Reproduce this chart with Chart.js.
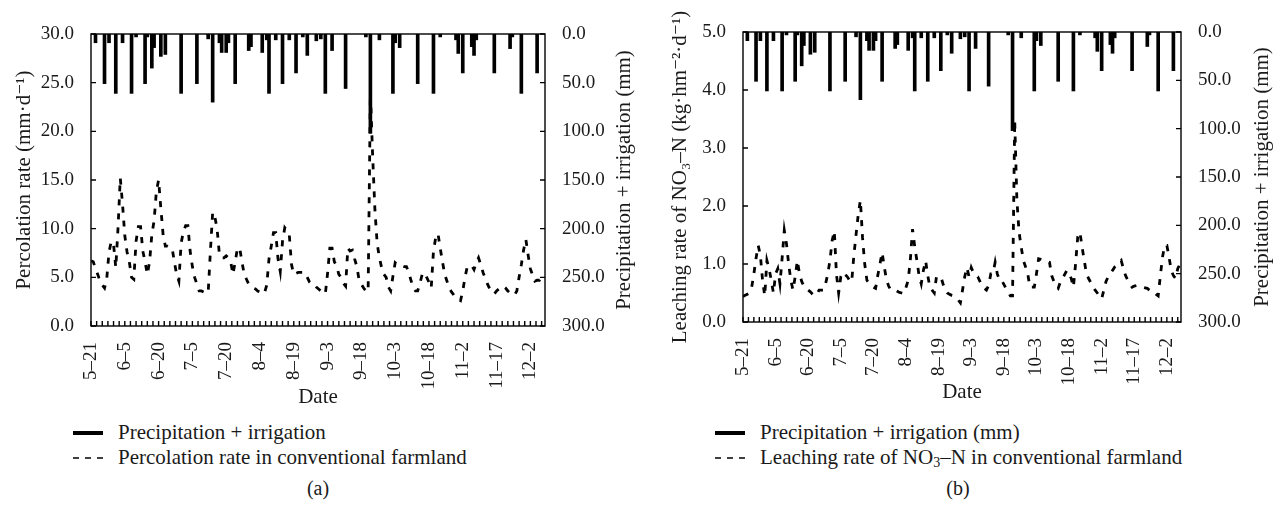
<!DOCTYPE html>
<html>
<head>
<meta charset="utf-8">
<script src="https://cdn.jsdelivr.net/npm/chart.js@4.4.1/dist/chart.umd.min.js"></script>
<style>
  body { margin: 0; background: #fff; width: 1276px; height: 513px; position: relative; overflow: hidden;
         font-family: "Liberation Serif", "DejaVu Serif", serif; color: #1a1a1a; }
  .panel { position: absolute; top: 0; width: 638px; height: 410px; }
  .legend { position: absolute; font-size: 21px; line-height: 25px; }
  .legend .row { display: flex; align-items: center; white-space: nowrap; }
  .legend svg { margin-right: 15px; }
  .legend .sub { font-size: 14px; position: relative; top: 5px; }
  .cap { position: absolute; top: 477px; font-size: 20px; transform: translateX(-50%); }
</style>
</head>
<body>
<div class="panel" style="left:0"><canvas id="chartA" width="638" height="410"></canvas></div>
<div class="panel" style="left:638px"><canvas id="chartB" width="638" height="410"></canvas></div>

<div class="legend" style="left:73px; top:420px">
  <div class="row"><svg width="30" height="8"><line x1="0" y1="4" x2="30" y2="4" stroke="#000" stroke-width="4"/></svg>Precipitation + irrigation</div>
  <div class="row"><svg width="30" height="8"><line x1="0" y1="4" x2="30" y2="4" stroke="#000" stroke-width="1.5" stroke-dasharray="6 6"/></svg>Percolation rate in conventional farmland</div>
</div>
<div class="cap" style="left:318px">(a)</div>

<div class="legend" style="left:715px; top:420px">
  <div class="row"><svg width="30" height="8"><line x1="0" y1="4" x2="30" y2="4" stroke="#000" stroke-width="4"/></svg>Precipitation + irrigation (mm)</div>
  <div class="row"><svg width="30" height="8"><line x1="0" y1="4" x2="30" y2="4" stroke="#000" stroke-width="1.5" stroke-dasharray="6 6"/></svg>Leaching rate of NO<span class="sub">3</span>–N in conventional farmland</div>
</div>
<div class="cap" style="left:958px">(b)</div>

<script>
// tick labels every 15 days starting 5-21
const dateLabels = ["5–21", "6–5", "6–20", "7–5", "7–20", "8–4", "8–19", "9–3", "9–18", "10–3", "10–18", "11–2", "11–17", "12–2"];
const xMax = 201.5;
const minorStep = 2.5;

// precipitation + irrigation events (day index from 5-21, mm)
const rainDays = [2, 6, 8, 11, 14, 18, 20, 24, 25, 27, 28, 31, 33, 40, 47, 52, 54, 57, 58, 60,
  61, 64, 70, 71, 76, 78, 79, 82, 85, 88, 91, 94, 96, 100, 102, 104, 107, 113, 122, 124,
  128, 134, 135, 137, 145, 152, 155, 162, 163, 165, 169, 170, 171, 179, 186, 187, 191, 198];
const rainMm = [9, 51, 9, 61, 9, 61, 3, 51, 3, 35, 14, 23, 21, 61, 51, 5, 70, 9, 19, 19,
  9, 51, 17, 13, 19, 6, 61, 6, 51, 6, 40, 3, 22, 7, 5, 61, 17, 56, 3, 102,
  6, 61, 9, 14, 51, 61, 3, 6, 20, 40, 13, 22, 6, 40, 15, 3, 61, 40];

// daily percolation rate (mm/d), panel a
const percolation = [
  6.7, 6.6, 5.9, 5.3, 4.6, 4.2, 3.9, 4.9, 7.6, 8.7,
  8.4, 6.0, 10.1, 15.2, 12.5, 9.3, 7.6, 6.6, 5.0, 4.8,
  8.7, 10.2, 10.2, 7.7, 6.6, 5.3, 6.6, 9.4, 10.8, 13.8,
  15.0, 12.1, 9.4, 8.2, 8.2, 8.1, 8.0, 6.6, 5.3, 4.6,
  8.5, 9.7, 10.3, 10.3, 7.7, 6.1, 5.0, 4.3, 3.6, 3.6,
  3.5, 3.5, 3.4, 7.7, 11.7, 11.2, 9.9, 7.3, 7.0, 7.0,
  7.2, 7.0, 6.6, 5.3, 6.6, 8.0, 8.0, 6.6, 5.3, 4.8,
  4.3, 4.1, 3.9, 3.8, 3.6, 3.5, 3.3, 3.4, 4.2, 6.9,
  8.2, 9.6, 9.6, 6.9, 5.6, 8.7, 10.1, 9.8, 9.4, 6.3,
  5.3, 5.4, 5.5, 5.5, 5.5, 5.5, 5.0, 4.5, 4.3, 4.3,
  4.0, 3.8, 3.6, 3.4, 3.3, 5.4, 8.0, 8.0, 6.6, 6.2,
  5.3, 5.0, 4.4, 4.1, 8.0, 7.7, 7.8, 6.9, 6.1, 4.7,
  4.3, 3.9, 3.6, 3.5, 24.0, 17.5, 12.0, 8.5, 7.0, 6.0,
  5.3, 5.0, 4.0, 3.6, 5.1, 6.5, 6.3, 6.2, 6.2, 6.1,
  6.1, 5.5, 4.7, 4.0, 3.6, 3.6, 4.4, 5.3, 5.5, 5.0,
  4.5, 3.9, 7.7, 9.1, 9.5, 8.0, 6.6, 5.3, 4.6, 3.9,
  3.5, 3.2, 2.9, 2.7, 2.6, 3.6, 5.0, 6.1, 6.1, 6.2,
  5.8, 6.5, 7.0, 6.3, 5.5, 4.9, 4.3, 3.8, 3.4, 3.3,
  3.6, 3.8, 4.0, 4.1, 3.9, 3.6, 3.4, 3.2, 3.2, 3.6,
  5.0, 6.3, 7.8, 8.9, 7.3, 5.9, 5.2, 4.6, 4.7, 4.7,
  5.0, 5.0
];

// daily NO3-N leaching rate (kg/hm2/d), panel b
const leaching = [
  0.44, 0.46, 0.48, 0.50, 0.60, 0.83, 1.10, 1.32, 1.15, 0.72,
  0.45, 1.06, 0.92, 0.72, 0.50, 0.83, 0.92, 0.66, 1.10, 1.58,
  1.35, 1.00, 0.72, 0.55, 0.78, 1.06, 0.83, 0.70, 0.62, 0.60,
  0.55, 0.52, 0.48, 0.45, 0.48, 0.55, 0.55, 0.55, 0.66, 0.83,
  1.06, 1.40, 1.57, 0.82, 0.50, 0.78, 0.86, 0.82, 0.78, 0.72,
  0.69, 1.15, 1.50, 1.85, 2.10, 1.45, 1.00, 0.72, 0.67, 0.64,
  0.60, 0.58, 0.80, 1.00, 1.20, 0.95, 0.73, 0.62, 0.55, 0.55,
  0.55, 0.53, 0.51, 0.50, 0.49, 0.60, 0.72, 1.08, 1.60, 1.30,
  1.06, 0.80, 0.66, 0.89, 1.06, 0.80, 0.60, 0.55, 0.50, 0.78,
  0.78, 0.78, 0.66, 0.55, 0.50, 0.48, 0.46, 0.45, 0.42, 0.38,
  0.33, 0.55, 0.78, 0.94, 0.78, 0.94, 0.85, 0.80, 0.78, 0.70,
  0.62, 0.58, 0.55, 0.63, 0.83, 0.83, 1.03, 0.83, 0.72, 0.72,
  0.65, 0.58, 0.52, 0.45, 0.45, 3.48, 2.10, 1.55, 1.29, 1.06,
  0.95, 0.83, 0.60, 0.60, 0.60, 0.83, 1.09, 1.08, 1.07, 1.05,
  1.04, 1.03, 0.80, 0.70, 0.62, 0.58, 0.69, 0.75, 0.82, 0.89,
  0.83, 0.75, 0.60, 1.00, 1.47, 1.55, 1.29, 1.06, 0.83, 0.75,
  0.68, 0.60, 0.55, 0.50, 0.45, 0.40, 0.55, 0.70, 0.78, 0.84,
  0.89, 0.95, 0.98, 1.02, 1.06, 0.92, 0.80, 0.72, 0.65, 0.60,
  0.62, 0.63, 0.62, 0.61, 0.60, 0.59, 0.58, 0.55, 0.55, 0.52,
  0.48, 0.45, 0.80, 1.12, 1.32, 1.32, 1.12, 0.89, 0.80, 0.75,
  0.92, 1.00
];

const FONT = "'Liberation Serif', 'DejaVu Serif', serif";
const INK = "#1a1a1a";
const rightTitle = "Precipitation + irrigation (mm)";

// box around the plot, inward tick marks, right title reading upward
const frameTicks = {
  id: "frameTicks",
  afterDatasetsDraw(chart) {
    const { ctx, chartArea: a, scales } = chart;
    ctx.save();
    ctx.strokeStyle = "#000";
    ctx.lineWidth = 1.4;
    ctx.strokeRect(a.left, a.top, a.right - a.left, a.bottom - a.top);
    ctx.beginPath();
    scales.y.ticks.forEach((t) => {
      const y = scales.y.getPixelForValue(t.value);
      ctx.moveTo(a.left, y);
      ctx.lineTo(a.left + 5, y);
    });
    scales.y1.ticks.forEach((t) => {
      const y = scales.y1.getPixelForValue(t.value);
      ctx.moveTo(a.right, y);
      ctx.lineTo(a.right - 5, y);
    });
    for (let d = 0; d <= xMax; d += minorStep) {
      const x = scales.x.getPixelForValue(d);
      ctx.moveTo(x, a.bottom);
      ctx.lineTo(x, a.bottom - 5);
    }
    ctx.stroke();

    ctx.translate(chart.width - 14, (a.top + a.bottom) / 2);
    ctx.rotate(-Math.PI / 2);
    ctx.fillStyle = INK;
    ctx.font = "21px " + FONT;
    ctx.textAlign = "center";
    ctx.textBaseline = "middle";
    ctx.fillText(rightTitle, 0, 0);
    ctx.restore();
  },
};

function makeChart(id, cfg) {
  const font = { family: FONT, size: 19 };
  const titleFont = { family: FONT, size: 21 };
  return new Chart(document.getElementById(id), {
    type: "bar",
    data: {
      datasets: [
        {
          type: "line",
          label: cfg.lineLabel,
          data: cfg.series.map((v, i) => ({ x: i, y: v })),
          yAxisID: "y",
          borderColor: "#000",
          borderWidth: 2.8,
          borderDash: [6, 8],
          pointRadius: 0,
          tension: 0,
          fill: false,
          order: 1,
        },
        {
          type: "bar",
          label: cfg.barLabel,
          data: rainDays.map((d, i) => ({ x: d, y: rainMm[i] })),
          yAxisID: "y1",
          backgroundColor: "#000",
          barThickness: 3,
          order: 2,
        },
      ],
    },
    options: {
      responsive: false,
      animation: false,
      layout: { padding: { left: cfg.padLeft, right: 0, top: cfg.top, bottom: 0 } },
      plugins: { legend: { display: false }, tooltip: { enabled: false } },
      scales: {
        x: {
          type: "linear",
          min: 0,
          max: xMax,
          offset: false,
          grid: { display: false, offset: false },
          border: { display: false },
          ticks: {
            stepSize: 15,
            autoSkip: false,
            includeBounds: false,
            minRotation: 90,
            maxRotation: 90,
            padding: 8,
            color: INK,
            font,
            callback: (v) => (v % 15 === 0 ? dateLabels[v / 15] || "" : ""),
          },
          title: { display: true, text: "Date", color: INK, font: titleFont, padding: { top: 0, bottom: cfg.datePad } },
          afterFit: (s) => { s.height = 410 - cfg.bottom; },
        },
        y: {
          position: "left",
          min: 0,
          max: cfg.leftMax,
          grid: { display: false },
          border: { display: false },
          ticks: { stepSize: cfg.leftStep, padding: 9, color: INK, font, callback: (v) => v.toFixed(1) },
          title: { display: true, text: cfg.leftTitle, color: INK, font: titleFont, padding: { top: 4, bottom: 0 } },
          afterFit: (s) => { s.width = cfg.left - cfg.padLeft; },
        },
        y1: {
          position: "right",
          min: 0,
          max: 300,
          reverse: true,
          grid: { display: false },
          border: { display: false },
          ticks: { stepSize: 50, padding: 9, color: INK, font, callback: (v) => v.toFixed(1) },
          afterFit: (s) => { s.width = 638 - cfg.right; },
        },
      },
    },
    plugins: [frameTicks],
  });
}

document.addEventListener("DOMContentLoaded", function () {
  makeChart("chartA", {
    series: percolation,
    lineLabel: "Percolation rate in conventional farmland",
    barLabel: "Precipitation + irrigation",
    leftMax: 30,
    leftStep: 5,
    leftTitle: "Percolation rate (mm·d⁻¹)",
    padLeft: 8,
    left: 91,
    right: 545,
    top: 34,
    bottom: 326,
    datePad: 0,
  });

  makeChart("chartB", {
    series: leaching,
    lineLabel: "Leaching rate of NO₃–N in conventional farmland",
    barLabel: "Precipitation + irrigation (mm)",
    leftMax: 5,
    leftStep: 1,
    leftTitle: "Leaching rate of NO₃–N (kg·hm⁻²·d⁻¹)",
    padLeft: 26,
    left: 105,
    right: 543,
    top: 32,
    bottom: 322,
    datePad: 5,
  });
});
</script>
</body>
</html>
